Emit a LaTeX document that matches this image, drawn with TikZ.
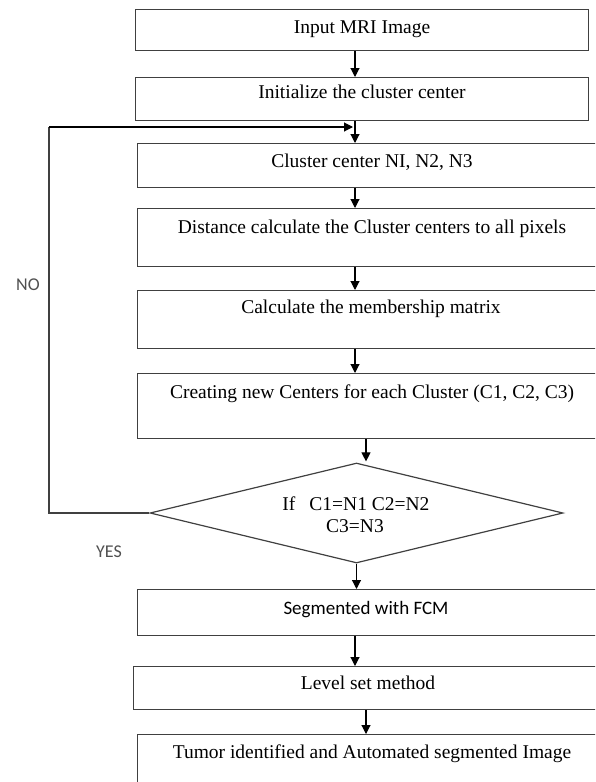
\documentclass[tikz,border=0pt]{standalone}
\usepackage{fontspec}
\setmainfont{Liberation Serif}
\newfontfamily\calfont{Carlito}
\usetikzlibrary{shapes.geometric,arrows.meta}
\definecolor{boxline}{HTML}{404040}
\definecolor{lblgray}{HTML}{505050}
\tikzset{
  stepbox/.style={draw=boxline, line width=1.2pt, rectangle, inner sep=0pt, anchor=north west},
  txt/.style={anchor=base, inner sep=0pt, font=\fontsize{19.5}{22}\selectfont},
  sanstxt/.style={anchor=base, inner sep=0pt, font=\calfont\fontsize{19}{22}\selectfont},
  lbl/.style={anchor=base, inner sep=0pt, text=lblgray, font=\calfont\fontsize{18}{20}\selectfont},
  arr/.style={draw=black, line width=1.1pt, -{Triangle[length=9pt,width=9pt]}},
}
\begin{document}
\begin{tikzpicture}[x=1pt,y=-1pt]
\useasboundingbox (0,0) rectangle (595,782);
\clip (0,0) rectangle (595,782);
% boxes
\node[stepbox, minimum width=453pt, minimum height=41pt] (b1) at (135,9) {};
\node[stepbox, minimum width=453pt, minimum height=43pt] (b2) at (135,77) {};
\node[stepbox, minimum width=470pt, minimum height=44pt] (b3) at (137,143) {};
\node[stepbox, minimum width=470pt, minimum height=58pt] (b4) at (137,208) {};
\node[stepbox, minimum width=470pt, minimum height=58pt] (b5) at (137,290) {};
\node[stepbox, minimum width=470pt, minimum height=65pt] (b6) at (137,373) {};
\node[draw=boxline, line width=1.2pt, diamond, minimum width=413pt, minimum height=100pt, inner sep=0pt] (d) at (356.5,513) {};
\node[stepbox, minimum width=470pt, minimum height=46pt] (b7) at (137,589) {};
\node[stepbox, minimum width=474pt, minimum height=43pt] (b8) at (133,666) {};
\node[stepbox, minimum width=470pt, minimum height=62pt] (b9) at (137,734) {};
% texts
\node[txt] (t1) at (362,33) {Input MRI Image};
\node[txt] (t2) at (362,98) {Initialize the cluster center};
\node[txt] (t3) at (372,167) {Cluster center NI, N2, N3};
\node[txt] (t4) at (372,233) {Distance calculate the Cluster centers to all pixels};
\node[txt] (t5) at (371,313) {Calculate the membership matrix};
\node[txt] (t6) at (372,398) {Creating new Centers for each Cluster (C1, C2, C3)};
\node[txt] (t7a) at (356,510) {If\hspace{14pt}C1=N1 C2=N2};
\node[txt] (t7b) at (355,532) {C3=N3};
\node[sanstxt] (t8) at (366,614) {Segmented with FCM};
\node[txt] (t9) at (368,689) {Level set method};
\node[txt] (t10) at (372,758) {Tumor identified and Automated segmented Image};
\node[lbl] (no) at (28,290) {NO};
\node[lbl] (yes) at (109,557) {YES};
% connector columns
\coordinate (xa) at (355,0);
\coordinate (xb) at (366,0);
\coordinate (lp) at (49,127);
% arrows
\draw[arr] (b1.south -| xa) -- (b2.north -| xa);
\draw[arr] (b2.south -| xa) -- (b3.north -| xa);
\draw[arr] (b3.south -| xa) -- (b4.north -| xa);
\draw[arr] (b4.south -| xa) -- (b5.north -| xa);
\draw[arr] (b5.south -| xa) -- (b6.north -| xa);
\draw[arr] (b6.south -| xb) -- ([yshift=1pt]d.north -| xb);
\draw[arr] (d.south) -- (b7.north -| d.south);
\draw[arr] (b7.south -| xa) -- (b8.north -| xa);
\draw[arr] (b8.south -| xb) -- (b9.north -| xb);
% loop back
\draw[draw=boxline, line width=1.2pt] (d.west) -- (d.west -| lp) -- (lp);
\draw[arr] (lp) -- ([xshift=-2pt]lp -| xa);
\end{tikzpicture}
\end{document}
